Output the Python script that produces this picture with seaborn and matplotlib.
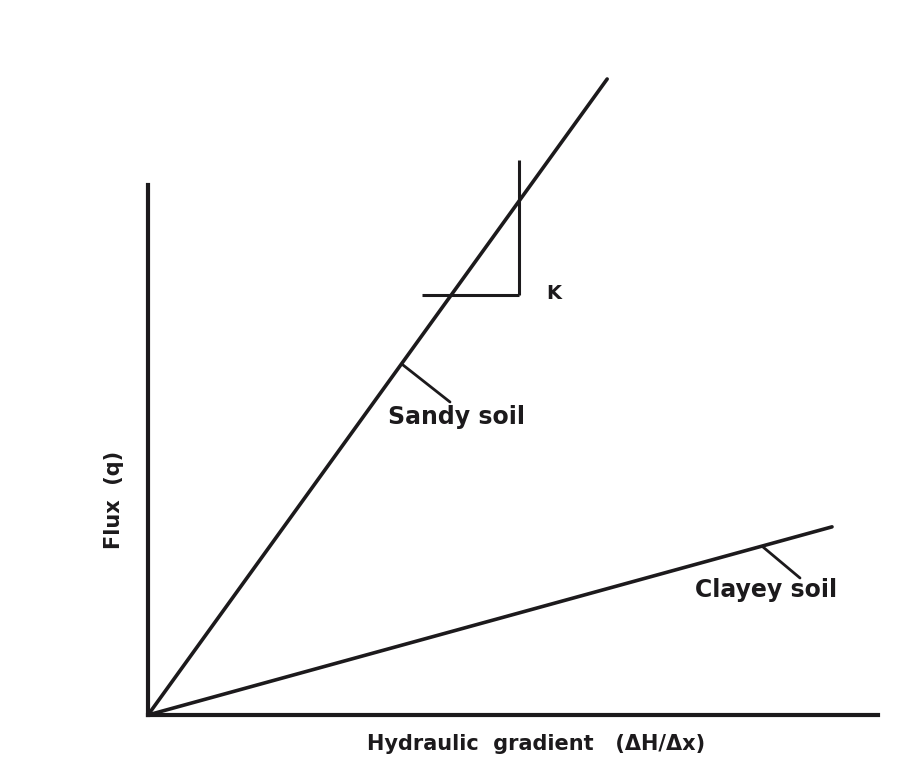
import matplotlib
matplotlib.use("Agg")
import matplotlib.pyplot as plt
import seaborn as sns
import pandas as pd

# Conceptual data (relative units): flux vs hydraulic gradient
sandy_gradient = [0.0, 0.629]
sandy_flux = [0.0, 1.20]
clayey_gradient = [0.0, 0.937]
clayey_flux = [0.0, 0.355]
soil_labels = ["Sandy soil", "Clayey soil"]

sns.set_style("white")
plt.rcParams['font.family'] = ['DejaVu Sans']

ink = "#1c1a1c"

df = pd.DataFrame({
    "gradient": sandy_gradient + clayey_gradient,
    "flux": sandy_flux + clayey_flux,
    "soil": [soil_labels[0]] * len(sandy_gradient) + [soil_labels[1]] * len(clayey_gradient),
})

fig = plt.figure(figsize=(9.24, 7.63), dpi=100)
ax = fig.add_axes([148/924, 48/763, 730/924, 655/763])

sns.lineplot(data=df, x="gradient", y="flux", units="soil", estimator=None,
             color=ink, linewidth=2.6, ax=ax, legend=False)

ax.set_xlim(0, 1)
ax.set_ylim(0, 655/530)
ax.set_xticks([])
ax.set_yticks([])
ax.set_xlabel("")
ax.set_ylabel("")
for s in ["top", "right"]:
    ax.spines[s].set_visible(False)
for s in ["left", "bottom"]:
    ax.spines[s].set_color(ink)
    ax.spines[s].set_linewidth(3.0)
ax.spines["left"].set_bounds(0, 1.0)
ax.spines["bottom"].set_bounds(0, 1.0)
ax.patch.set_alpha(0)

# Slope triangle (K)
ax.plot([0.508, 0.508], [0.792, 1.047], color=ink, lw=2.2, solid_capstyle="butt")
ax.plot([0.375, 0.508], [0.792, 0.792], color=ink, lw=2.2, solid_capstyle="butt")
ax.text(0.545, 0.796, "K", fontsize=14, fontweight="bold", color=ink,
        ha="left", va="center")

# Leaders and labels
ax.plot([(403-148)/730, (450-148)/730], [(715-365)/530, (715-402)/530], color=ink, lw=2.0)
ax.text((457-148)/730, (715-417)/530, soil_labels[0], fontsize=17, fontweight="bold",
        color=ink, ha="center", va="center")
ax.plot([(763-148)/730, (800-148)/730], [(715-547)/530, (715-578)/530], color=ink, lw=2.0)
ax.text((766-148)/730, (715-590)/530, soil_labels[1], fontsize=17, fontweight="bold",
        color=ink, ha="center", va="center")

fig.text(536/924, 1-744/763, "Hydraulic  gradient   (ΔH/Δx)", fontsize=15,
         fontweight="bold", color=ink, ha="center", va="center")
fig.text(114/924, 1-500/763, "Flux  (q)", fontsize=15, fontweight="bold",
         color=ink, ha="center", va="center", rotation=90)

fig.savefig("out.png", dpi=100)
